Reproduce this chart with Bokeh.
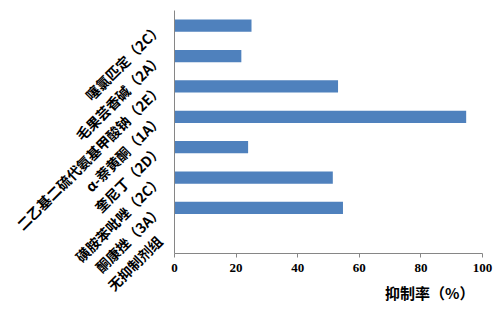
import math
from bokeh.plotting import figure
from bokeh.models import FactorRange, Range1d, Title
from bokeh.embed import file_html
from bokeh.resources import INLINE

categories = ["噻氯匹定（2C）", "毛果芸香碱（2A）", "二乙基二硫代氨基甲酸钠（2E）", "α-萘黄酮（1A）",
              "奎尼丁（2D）", "磺胺苯吡唑（2C）", "酮康挫（3A）", "无抑制剂组"]
values = [25.0, 21.7, 53.1, 94.7, 23.9, 51.4, 54.7, 0.0]
x_ticks = [0, 20, 40, 60, 80, 100]
x_title = "抑制率（%）"

factors = list(reversed(categories))
vals = list(reversed(values))

p = figure(width=503, height=315, output_backend="svg", toolbar_location=None,
           y_range=FactorRange(factors=factors, range_padding=0),
           x_range=Range1d(0, 100),
           min_border_left=174, min_border_right=21, min_border_top=10, min_border_bottom=62)
p.outline_line_color = None
p.background_fill_color = "white"
p.border_fill_color = "white"
p.xgrid.visible = False
p.ygrid.visible = False

p.hbar(y=factors, right=vals, left=0, height=0.4, color="#4F81BD", line_color=None)

ax = p.xaxis[0]
ax.ticker = x_ticks
ax.axis_line_color = "#868686"
ax.major_tick_line_color = "#868686"
ax.major_tick_in = 0
ax.major_tick_out = 4
ax.minor_tick_line_color = None
ax.major_label_text_font = "Liberation Serif"
ax.major_label_text_font_style = "bold"
ax.major_label_text_font_size = "13px"
ax.major_label_text_color = "black"
ax.major_label_standoff = 6

ay = p.yaxis[0]
ay.axis_line_color = "#868686"
ay.major_tick_line_color = None
ay.minor_tick_line_color = None
ay.major_label_orientation = math.pi / 4
ay.major_label_text_font = "Noto Sans CJK SC"
ay.major_label_text_font_style = "bold"
ay.major_label_text_font_size = "14px"
ay.major_label_text_color = "black"
ay.major_label_standoff = 9

p.add_layout(Title(text=x_title, align="right", offset=8,
                   text_font="Noto Sans CJK SC", text_font_style="bold", text_font_size="15px",
                   text_color="black", standoff=11), "below")

open("out.html", "w").write(file_html(p, INLINE))
